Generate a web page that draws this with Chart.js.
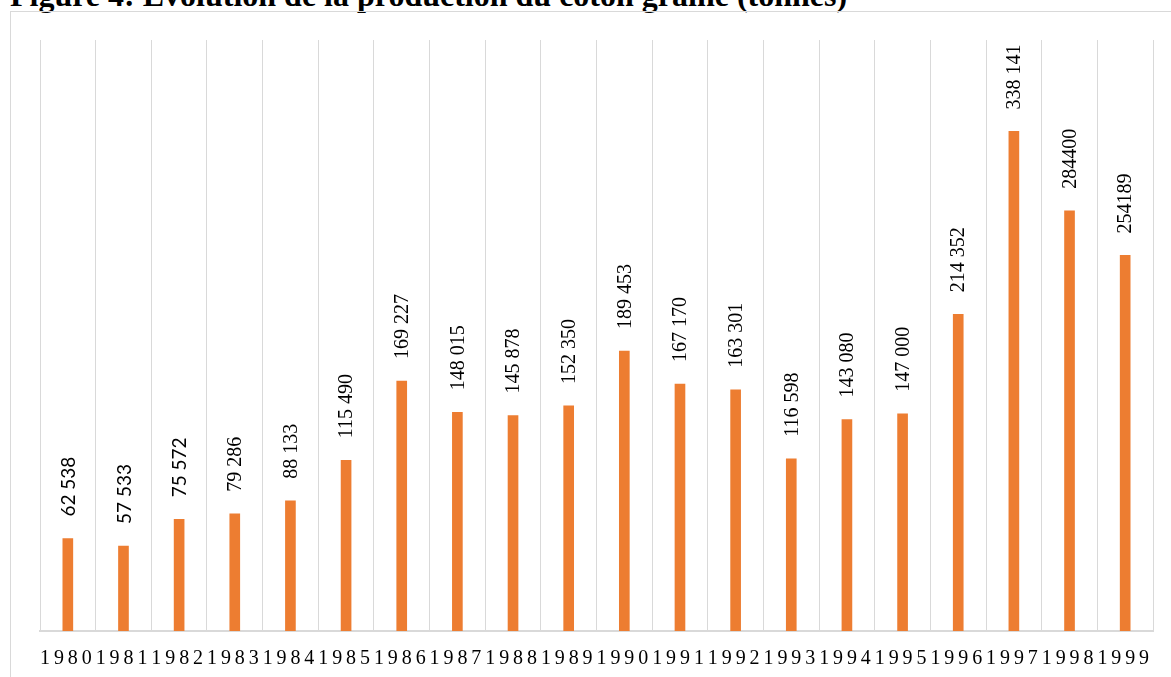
<!DOCTYPE html>
<html lang="fr">
<head>
<meta charset="utf-8">
<title>Evolution de la production du coton graine</title>
<script src="https://cdn.jsdelivr.net/npm/chart.js@4.4.1/dist/chart.umd.min.js"></script>
<style>
  html, body { margin: 0; padding: 0; background: #fff; overflow: hidden; }
  body { width: 1171px; height: 677px; position: relative; }
  .fig-title {
    position: absolute; left: 10px; top: -23px; margin: 0;
    font: bold 32px "Liberation Serif", "Times New Roman", serif;
    color: #000; white-space: nowrap; line-height: 36px;
  }
  .fig-frame {
    position: absolute; left: 10px; top: 11px; width: 1300px; height: 800px;
    border: 1px solid #d9d9d9; box-sizing: border-box;
  }
  .chart-wrap { position: absolute; left: 0; top: 0; width: 1171px; height: 677px; }
</style>
</head>
<body>
<h1 class="fig-title">Figure 4: Evolution de la production du coton graine (tonnes)</h1>
<div class="fig-frame"></div>
<div class="chart-wrap"><canvas id="chart"></canvas></div>
<script>
const BAR_COLOR = "#ED7D31";
const GRID_COLOR = "#d9d9d9";

const years = ["1980", "1981", "1982", "1983", "1984", "1985", "1986", "1987", "1988", "1989",
  "1990", "1991", "1992", "1993", "1994", "1995", "1996", "1997", "1998", "1999"];
const production = [62538, 57533, 75572, 79286, 88133, 115490, 169227, 148015, 145878, 152350,
  189453, 167170, 163301, 116598, 143080, 147000, 214352, 338141, 284400, 254189];
const valueLabels = ["62 538", "57 533", "75 572", "79 286", "88 133", "115 490", "169 227", "148 015",
  "145 878", "152 350", "189 453", "167 170", "163 301", "116 598", "143 080", "147 000",
  "214 352", "338 141", "284400", "254189"];
// the first three labels were typeset in a sans font in the original
const sansLabelCount = 3;

const tickSpacing = {
  id: "tickSpacing",
  beforeDraw(chart) {
    chart.ctx.letterSpacing = "3.9px";
  },
};

const barLabels = {
  id: "barLabels",
  afterDatasetsDraw(chart) {
    const ctx = chart.ctx;
    const meta = chart.getDatasetMeta(0);
    meta.data.forEach((bar, i) => {
      ctx.save();
      ctx.letterSpacing = "0px";
      ctx.font = i < sansLabelCount ? '19px "Lato", sans-serif' : '20px "Liberation Serif", serif';
      ctx.fillStyle = "#000";
      ctx.textAlign = "left";
      ctx.textBaseline = "middle";
      ctx.translate(bar.x + 1, bar.y - 22);
      ctx.rotate(-Math.PI / 2);
      ctx.fillText(valueLabels[i], 0, 0);
      ctx.restore();
    });
  },
};

new Chart(document.getElementById("chart"), {
  type: "bar",
  data: {
    labels: years,
    datasets: [{
      label: "Production (tonnes)",
      data: production,
      backgroundColor: BAR_COLOR,
      borderWidth: 0,
      barThickness: 10,
    }],
  },
  options: {
    responsive: true,
    maintainAspectRatio: false,
    animation: false,
    events: [],
    layout: { padding: { left: 40, right: 18, top: 40, bottom: 0 } },
    plugins: {
      legend: { display: false },
      tooltip: { enabled: false },
      title: { display: false },
    },
    scales: {
      x: {
        offset: true,
        afterFit(scale) {
          scale.height = 46;
        },
        grid: { display: true, offset: true, color: GRID_COLOR, lineWidth: 1, drawTicks: false },
        border: { display: true, color: GRID_COLOR, width: 2 },
        ticks: {
          color: "#000",
          padding: 16,
          autoSkip: false,
          maxRotation: 0,
          minRotation: 0,
          font: { family: '"Liberation Serif", "Times New Roman", serif', size: 20 },
        },
      },
      y: {
        display: false,
        min: 0,
        max: 400000,
      },
    },
  },
  plugins: [tickSpacing, barLabels],
});
</script>
</body>
</html>
